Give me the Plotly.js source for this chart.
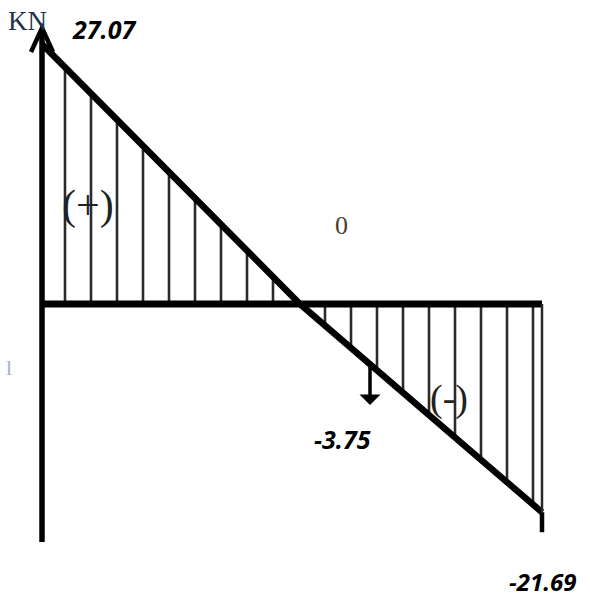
<!DOCTYPE html>
<html><head><meta charset="utf-8">
<script src="https://cdn.plot.ly/plotly-3.0.1.min.js"></script>
<style>html,body{margin:0;padding:0;background:#fff}</style>
</head><body><div id="chart" style="width:590px;height:600px"></div>
<script>
// ---- data: shear force diagram (kN) along the beam (relative positions) ----
const beamX   = [0, 5.16, 10];
const shearKN = [27.07, 0, -21.69];
const loadPointX = [6.56];
const valueLabels = ['27.07', '-3.75', '-21.69'];
const signLabels  = ['(+)', '(-)'];
const unitLabel   = 'KN';
const zeroLabel   = '0';

// ---- layout helpers (pixel placement) ----
const W = 590, H = 600;
const x0px = 42, pxPerX = 50, y0px = 304, pxPerKN = 9.6;
const toX = p => (p - x0px) / pxPerX;
const toY = p => (y0px - p) / pxPerKN;
const px = p => p / W, py = p => 1 - p / H;

const traces = [
  { x: beamX, y: shearKN, mode: 'lines', line: {width: 0, color: 'rgba(0,0,0,0)'},
    fill: 'tozeroy', fillcolor: 'rgba(0,0,0,0)',
    fillpattern: {shape: '|', size: 26, solidity: 0.1, fgcolor: '#2a2a2a', bgcolor: 'rgba(0,0,0,0)'},
    hoverinfo: 'skip', showlegend: false },
  { x: beamX, y: shearKN, mode: 'lines', line: {width: 6.5, color: '#000'},
    hoverinfo: 'skip', showlegend: false }
];

const endX = beamX[beamX.length - 1];
const endV = shearKN[shearKN.length - 1];
const shapes = [
  {type: 'line', xref: 'x', yref: 'y', x0: 0, x1: 0, y0: toY(542), y1: toY(30), line: {color: '#000', width: 5.5}},
  {type: 'path', xref: 'x', yref: 'y', path: `M ${toX(31)} ${toY(52)} L 0 ${toY(28)} L ${toX(53)} ${toY(52)}`, line: {color: '#000', width: 4.5}},
  {type: 'line', xref: 'x', yref: 'y', x0: 0, x1: endX, y0: 0, y1: 0, line: {color: '#000', width: 7}},
  {type: 'line', xref: 'x', yref: 'y', x0: endX, x1: endX, y0: 0, y1: endV, line: {color: '#2a2a2a', width: 2.5}},
  {type: 'line', xref: 'x', yref: 'y', x0: endX, x1: endX, y0: endV, y1: endV - 20 / pxPerKN, line: {color: '#000', width: 4.5}}
];

const bi = {family: 'Open Sans', size: 25, color: '#000', weight: 'bold', style: 'italic'};
const txt = (x, y, text, font) => ({xref: 'paper', yref: 'paper', x: px(x), y: py(y), text, showarrow: false,
  xanchor: 'center', yanchor: 'middle', font});
const annotations = [
  {xref: 'x', yref: 'y', x: loadPointX[0], y: toY(405), ax: 0, ay: -40, text: '', showarrow: true,
   arrowhead: 1, arrowsize: 1, arrowwidth: 3.5, arrowcolor: '#000'},
  txt(27, 21, unitLabel, {family: 'Liberation Serif', size: 27, color: '#22304a'}),
  txt(104, 29, valueLabels[0], bi),
  txt(342, 439, valueLabels[1], bi),
  txt(542, 581, valueLabels[2], {...bi, size: 24}),
  txt(88, 205, signLabels[0], {family: 'Liberation Serif', size: 42, color: '#222'}),
  txt(449, 398, signLabels[1], {family: 'Liberation Serif', size: 38, color: '#222'}),
  txt(341, 225, zeroLabel, {family: 'Liberation Serif', size: 26, color: '#4a4030'}),
  txt(9, 367, 'l', {family: 'Liberation Serif', size: 22, color: '#9fb3c8'})
];

const layout = {
  width: W, height: H, margin: {l: 0, r: 0, t: 0, b: 0},
  paper_bgcolor: '#fff', plot_bgcolor: '#fff', showlegend: false,
  xaxis: {range: [toX(0), toX(W)], showgrid: false, zeroline: false, showticklabels: false, showline: false, ticks: ''},
  yaxis: {range: [toY(H), toY(0)], showgrid: false, zeroline: false, showticklabels: false, showline: false, ticks: ''},
  shapes, annotations
};
Plotly.newPlot('chart', traces, layout, {displayModeBar: false, staticPlot: true});
</script></body></html>
